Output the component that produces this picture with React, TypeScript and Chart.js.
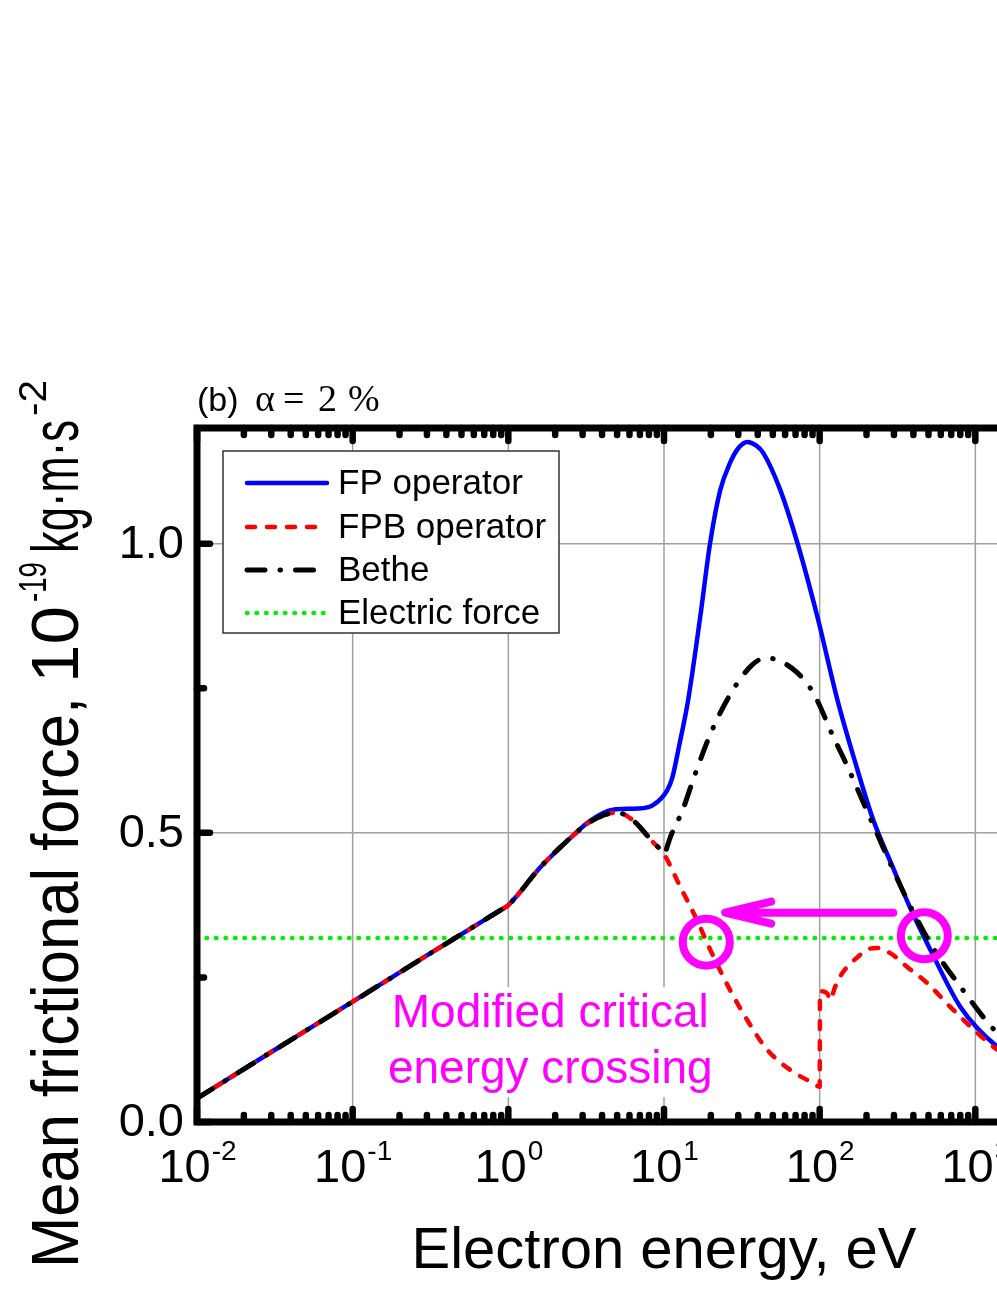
import { useEffect, useRef } from "react";
import { Chart, registerables } from "chart.js";
Chart.register(...registerables);

const SANS = "'Liberation Sans', Arial, Helvetica, sans-serif";
const SERIF = "'Liberation Serif', 'Times New Roman', Times, serif";

// ---- data (x: electron energy in eV, y: force in 1e-19 kg·m·s^-2) ----
const energyFP = [0.01, 0.03, 0.1, 0.3, 0.7, 0.9, 1, 1.6, 2.5, 3.4, 4.7, 6.7, 8.5, 10.5, 11.3, 12.5, 14.3, 17.1, 19.8, 23, 26.6, 30, 34.3, 39, 43.4, 55.8, 71.8, 96.6, 130, 170, 221, 300, 382, 514, 802, 1383, 3000, 10000];
const forceFP = [0.041, 0.121, 0.208, 0.288, 0.349, 0.367, 0.375, 0.44, 0.491, 0.522, 0.54, 0.542, 0.548, 0.574, 0.595, 0.65, 0.73, 0.874, 1.002, 1.093, 1.14, 1.165, 1.176, 1.17, 1.157, 1.093, 1.002, 0.874, 0.73, 0.62, 0.522, 0.436, 0.37, 0.298, 0.199, 0.13, 0.075, 0.035];

const energyFPB = [0.01, 0.03, 0.1, 0.3, 0.7, 0.9, 1, 1.6, 2.5, 3.4, 5, 6.3, 8.5, 10, 12.7, 16.3, 19.8, 26.6, 34.3, 46, 64.7, 91, 100, 100.5, 112, 117, 125, 135, 150, 175, 202, 233, 284, 365, 492, 690, 1031, 1383, 3000, 10000];
const forceFPB = [0.041, 0.121, 0.208, 0.288, 0.349, 0.367, 0.375, 0.44, 0.491, 0.52, 0.535, 0.522, 0.484, 0.463, 0.407, 0.349, 0.298, 0.228, 0.176, 0.125, 0.09, 0.067, 0.061, 0.226, 0.222, 0.211, 0.232, 0.251, 0.268, 0.285, 0.298, 0.301, 0.292, 0.268, 0.24, 0.199, 0.154, 0.125, 0.08, 0.04];

const energyBethe = [0.01, 0.03, 0.1, 0.3, 0.7, 0.9, 1, 1.6, 2.5, 3.4, 5, 6.3, 8.5, 9.7, 10, 10.3, 11, 13.2, 15.4, 19.8, 26.6, 36.7, 45, 51.9, 71.8, 91, 122, 150, 228, 365, 530, 802, 1383, 3000, 10000];
const forceBethe = [0.041, 0.121, 0.208, 0.288, 0.349, 0.367, 0.375, 0.44, 0.491, 0.52, 0.535, 0.522, 0.484, 0.468, 0.463, 0.47, 0.493, 0.54, 0.592, 0.67, 0.739, 0.79, 0.802, 0.8, 0.777, 0.742, 0.667, 0.616, 0.505, 0.384, 0.303, 0.234, 0.154, 0.09, 0.045];

const energyElectric = [0.01, 10000];
const forceElectric = [0.318, 0.318];

const seriesLabels = ["FP operator", "FPB operator", "Bethe", "Electric force"];

const xMin = 0.01;
const xMax = 10000;
const yMin = 0;
const yMax = 1.2;
const xTickExponents = [-2, -1, 0, 1, 2, 3, 4];
const yTickValues = [0, 0.5, 1.0];
const yMinorTickValues = [0.25, 0.75];
const yGridValues = [0.5, 1.0];

const annotationLines = ["Modified critical", "energy crossing"];
const annotationTextEnergy = 1.86;
const annotationTextForces = [0.164, 0.0675];
const crossingPoints = [
  { x: 18.7, y: 0.311 },
  { x: 470, y: 0.322 },
];
const arrowFrom = { x: 297, y: 0.362 };
const arrowTo = { x: 24.7, y: 0.362 };

const toXY = (xs: number[], ys: number[]) => xs.map((x, i) => ({ x, y: ys[i] }));

const DASH_FPB = [8, 12];
const DASH_BETHE = [18, 15, 0.5, 15];
const DASH_ELEC = [0.5, 9];

function line(ctx: CanvasRenderingContext2D, x1: number, y1: number, x2: number, y2: number) {
  ctx.beginPath();
  ctx.moveTo(x1, y1);
  ctx.lineTo(x2, y2);
  ctx.stroke();
}

function drawFitted(ctx: CanvasRenderingContext2D, text: string, font: string, baseX: number, startY: number, endY: number) {
  ctx.save();
  ctx.font = font;
  const w = ctx.measureText(text).width;
  ctx.translate(baseX, startY);
  ctx.rotate(-Math.PI / 2);
  ctx.scale((startY - endY) / w, 1);
  ctx.textAlign = "left";
  ctx.textBaseline = "alphabetic";
  ctx.fillText(text, 0, 0);
  ctx.restore();
}

const overlay = {
  id: "overlay",
  beforeDatasetsDraw(chart: any) {
    const { ctx, chartArea: a, scales } = chart;
    const xs = scales.x, ys = scales.y;
    ctx.save();
    ctx.strokeStyle = "#a0a0a0";
    ctx.lineWidth = 1.5;
    ctx.setLineDash([]);
    xTickExponents.forEach((e) => {
      const p = xs.getPixelForValue(Math.pow(10, e));
      line(ctx, p, a.top, p, a.bottom);
    });
    yGridValues.forEach((v) => {
      const p = ys.getPixelForValue(v);
      line(ctx, a.left, p, a.right, p);
    });
    ctx.restore();
  },
  afterDatasetsDraw(chart: any) {
    const { ctx, chartArea: a, scales } = chart;
    const xs = scales.x, ys = scales.y;
    ctx.save();

    // ---- legend ----
    const lx = 223, ly = 451, lw = 336, lh = 182;
    ctx.fillStyle = "#fff";
    ctx.fillRect(lx, ly, lw, lh);
    ctx.strokeStyle = "#333";
    ctx.lineWidth = 1.5;
    ctx.strokeRect(lx, ly, lw, lh);
    const rows = [483, 527, 570, 613];
    const ds = chart.data.datasets;
    [0, 1, 2, 3].forEach((di, i) => {
      const d = ds[di];
      ctx.save();
      ctx.strokeStyle = d.borderColor;
      ctx.lineWidth = d.borderWidth;
      ctx.lineCap = "round";
      ctx.setLineDash(d.borderDash || []);
      line(ctx, 247, rows[i], 327, rows[i]);
      ctx.restore();
      ctx.fillStyle = "#000";
      ctx.font = `35px ${SANS}`;
      ctx.textAlign = "left";
      ctx.textBaseline = "middle";
      ctx.fillText(seriesLabels[i], 338, rows[i] + 1);
    });

    // ---- annotation ----
    const magenta = "#ff00ff";
    ctx.font = `46px ${SANS}`;
    ctx.textAlign = "center";
    ctx.textBaseline = "alphabetic";
    const tx = xs.getPixelForValue(annotationTextEnergy);
    const tb = annotationTextForces.map((f) => ys.getPixelForValue(f));
    const tw = Math.max(...annotationLines.map((t) => ctx.measureText(t).width));
    ctx.fillStyle = "#fff";
    ctx.fillRect(tx - tw / 2 - 6, tb[0] - 40, tw + 12, tb[1] - tb[0] + 54);
    ctx.fillStyle = magenta;
    annotationLines.forEach((t, i) => ctx.fillText(t, tx, tb[i]));

    ctx.strokeStyle = magenta;
    ctx.lineCap = "round";
    ctx.lineJoin = "round";
    ctx.setLineDash([]);
    ctx.lineWidth = 8;
    crossingPoints.forEach((c) => {
      ctx.beginPath();
      ctx.arc(xs.getPixelForValue(c.x), ys.getPixelForValue(c.y), 23.5, 0, Math.PI * 2);
      ctx.stroke();
    });
    const ax0 = xs.getPixelForValue(arrowFrom.x);
    const ax1 = xs.getPixelForValue(arrowTo.x);
    const ay = ys.getPixelForValue(arrowFrom.y);
    line(ctx, ax0, ay, ax1 + 4, ay);
    ctx.beginPath();
    ctx.moveTo(ax1 + 46, ay - 11);
    ctx.lineTo(ax1, ay);
    ctx.lineTo(ax1 + 46, ay + 11);
    ctx.stroke();

    // ---- frame ----
    ctx.strokeStyle = "#000";
    ctx.lineWidth = 7;
    ctx.lineJoin = "miter";
    ctx.lineCap = "butt";
    ctx.strokeRect(a.left, a.top, a.right - a.left, a.bottom - a.top);

    // ---- ticks ----
    ctx.lineCap = "round";
    ctx.lineWidth = 6.5;
    const major = 13, minor = 7;
    xTickExponents.forEach((e) => {
      const p = xs.getPixelForValue(Math.pow(10, e));
      line(ctx, p, a.bottom, p, a.bottom - major);
      line(ctx, p, a.top, p, a.top + major);
      if (e < xTickExponents[xTickExponents.length - 1]) {
        for (let m = 2; m <= 9; m++) {
          const q = xs.getPixelForValue(m * Math.pow(10, e));
          line(ctx, q, a.bottom, q, a.bottom - minor);
          line(ctx, q, a.top, q, a.top + minor);
        }
      }
    });
    yTickValues.forEach((v) => {
      const p = ys.getPixelForValue(v);
      line(ctx, a.left, p, a.left + major, p);
      line(ctx, a.right, p, a.right - major, p);
    });
    yMinorTickValues.forEach((v) => {
      const p = ys.getPixelForValue(v);
      line(ctx, a.left, p, a.left + minor, p);
      line(ctx, a.right, p, a.right - minor, p);
    });

    // ---- tick labels ----
    ctx.fillStyle = "#000";
    ctx.textBaseline = "alphabetic";
    xTickExponents.forEach((e) => {
      const cx = xs.getPixelForValue(Math.pow(10, e));
      const base = "10";
      const ex = String(e);
      ctx.font = `47px ${SANS}`;
      const wb = ctx.measureText(base).width;
      ctx.font = `28px ${SANS}`;
      const we = ctx.measureText(ex).width;
      const start = cx - (wb + we) / 2;
      ctx.textAlign = "left";
      ctx.font = `47px ${SANS}`;
      ctx.fillText(base, start, 1182);
      ctx.font = `28px ${SANS}`;
      ctx.fillText(ex, start + wb + 1, 1160);
    });
    ctx.textAlign = "right";
    ctx.textBaseline = "middle";
    ctx.font = `47px ${SANS}`;
    yTickValues.forEach((v) => {
      ctx.fillText(v.toFixed(1), 184, ys.getPixelForValue(v) + 1);
    });

    // ---- axis titles ----
    ctx.textAlign = "center";
    ctx.textBaseline = "alphabetic";
    ctx.font = `58px ${SANS}`;
    ctx.fillText("Electron energy, eV", (a.left + a.right) / 2, 1268);

    drawFitted(ctx, "Mean frictional force,", `66px ${SANS}`, 78, 1268, 697);
    drawFitted(ctx, "10", `66px ${SANS}`, 78, 683, 606);
    drawFitted(ctx, "-19", `38px ${SANS}`, 46, 602, 562);
    drawFitted(ctx, "kg·m·s", `66px ${SANS}`, 78, 553, 420);
    drawFitted(ctx, "-2", `38px ${SANS}`, 46, 416, 380);

    // ---- panel title ----
    ctx.textAlign = "left";
    ctx.textBaseline = "alphabetic";
    ctx.font = `34px ${SANS}`;
    ctx.fillText("(b)", 197, 411);
    ctx.font = `38px ${SERIF}`;
    ctx.fillText("α", 255, 411);
    ctx.fillText("=", 283, 411);
    ctx.fillText("2", 318, 411);
    ctx.fillText("%", 348, 411);

    ctx.restore();
  },
};

export default function App() {
  const ref = useRef<HTMLCanvasElement | null>(null);
  useEffect(() => {
    if (!ref.current) return;
    const W = 1180, H = 1290;
    const common = { pointRadius: 0, fill: false, borderCapStyle: "round", borderJoinStyle: "round" };
    const chart = new Chart(ref.current, {
      type: "line",
      data: {
        datasets: [
          {
            ...common,
            label: seriesLabels[0],
            data: toXY(energyFP, forceFP),
            borderColor: "#0000ff",
            borderWidth: 4.5,
            cubicInterpolationMode: "monotone",
            order: 3,
          },
          {
            ...common,
            label: seriesLabels[1],
            data: toXY(energyFPB, forceFPB),
            borderColor: "#ff0000",
            borderWidth: 4.5,
            borderDash: DASH_FPB,
            cubicInterpolationMode: "monotone",
            order: 2,
          },
          {
            ...common,
            label: seriesLabels[2],
            data: toXY(energyBethe, forceBethe),
            borderColor: "#000000",
            borderWidth: 5,
            borderDash: DASH_BETHE,
            cubicInterpolationMode: "monotone",
            order: 1,
          },
          {
            ...common,
            label: seriesLabels[3],
            data: toXY(energyElectric, forceElectric),
            borderColor: "#00f000",
            borderWidth: 4.5,
            borderDash: DASH_ELEC,
            order: 4,
          },
        ] as any,
      },
      options: {
        animation: false,
        responsive: false,
        devicePixelRatio: 1,
        events: [],
        layout: { padding: { left: 197, top: 428, right: W - 1131, bottom: H - 1122 } },
        plugins: { legend: { display: false }, tooltip: { enabled: false }, title: { display: false } },
        scales: {
          x: { type: "logarithmic", min: xMin, max: xMax, display: false },
          y: { type: "linear", min: yMin, max: yMax, display: false },
        },
      } as any,
      plugins: [overlay],
    });
    return () => chart.destroy();
  }, []);
  return (
    <div style={{ position: "absolute", left: 0, top: 0, width: 997, height: 1290, overflow: "hidden", background: "#fff" }}>
      <canvas ref={ref} width={1180} height={1290} style={{ display: "block", width: 1180, height: 1290 }} />
    </div>
  );
}
